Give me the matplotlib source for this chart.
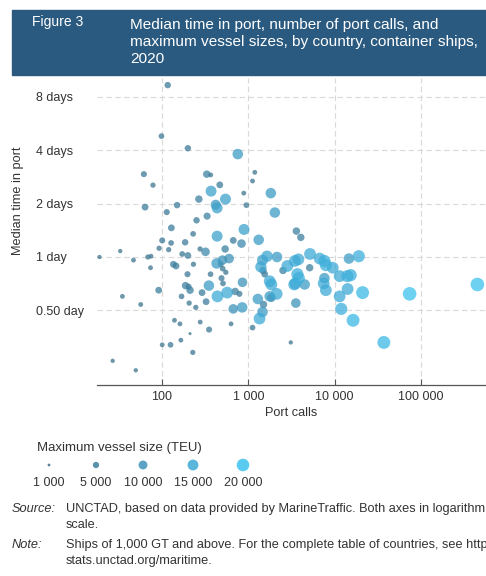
import numpy as np
import matplotlib
matplotlib.use("Agg")
import matplotlib.pyplot as plt
from matplotlib.colors import LinearSegmentedColormap, Normalize
from matplotlib.ticker import FixedLocator, NullLocator

plt.rcParams['font.family'] = ['Liberation Sans', 'DejaVu Sans']

# values: port calls, median days in port, max vessel size (TEU)
port_calls = [
    117, 99, 200, 756, 62, 79, 331, 368, 468, 371, 545, 268, 64, 114, 150, 420, 436, 887, 950,
    252, 334, 129, 230, 436, 893, 1190, 1120, 1320, 101, 128, 186, 93, 120, 172, 200, 277, 320,
    540, 670, 835, 1460, 19, 33, 47, 69, 75, 74, 136, 146, 232, 198, 430, 503, 600, 366, 35, 57,
    92, 169, 204, 188, 212, 480, 506, 550, 490, 510, 350, 292, 325, 247, 207, 440, 570, 705, 140,
    162, 278, 212, 352, 632, 101, 126, 166, 228, 27, 50, 670, 850, 790, 857, 1120, 1350, 1290,
    1500, 1822, 2030, 3600, 4050, 1400, 1650, 2150, 2520, 1480, 1550, 1770, 1850, 2130, 1770,
    1850, 1460, 3100, 3550, 3460, 3800, 2830, 5180, 5130, 3700, 3840, 3400, 3500, 4490, 6700,
    7600, 7900, 9500, 7600, 7450, 7900, 11400, 14000, 15300, 14600, 19000, 14100, 21000, 11400,
    11900, 16300, 73500, 37000, 447000,
]
median_days = [
    9.3, 4.8, 4.1, 3.8, 2.93, 2.54, 2.93, 2.9, 2.55, 2.35, 2.12, 2.12, 1.91, 1.79, 1.96, 1.97,
    1.89, 2.29, 1.96, 1.61, 1.70, 1.46, 1.35, 1.31, 1.43, 3.0, 2.68, 1.25, 1.24, 1.20, 1.21, 1.12,
    1.10, 1.04, 1.02, 1.11, 1.07, 1.11, 1.24, 1.19, 0.96, 1.0, 1.08, 0.96, 1.0, 1.01, 0.87, 0.91,
    0.89, 0.91, 0.80, 0.92, 0.96, 0.98, 0.80, 0.60, 0.54, 0.65, 0.60, 0.68, 0.69, 0.65, 0.91,
    0.86, 0.82, 0.76, 0.71, 0.69, 0.63, 0.56, 0.52, 0.55, 0.60, 0.63, 0.64, 0.44, 0.42, 0.43,
    0.37, 0.39, 0.42, 0.32, 0.32, 0.34, 0.29, 0.26, 0.23, 0.51, 0.52, 0.62, 0.72, 0.40, 0.45,
    0.58, 0.54, 2.29, 1.78, 1.40, 1.29, 0.88, 1.01, 1.00, 0.84, 0.84, 0.80, 0.73, 0.70, 0.62,
    0.60, 0.59, 0.49, 0.33, 0.55, 0.95, 0.97, 0.89, 1.04, 0.87, 0.80, 0.76, 0.70, 0.71, 0.70,
    0.98, 0.95, 0.90, 0.87, 0.76, 0.71, 0.65, 0.78, 0.78, 0.79, 0.98, 1.01, 0.66, 0.63, 0.60,
    0.51, 0.44, 0.62, 0.33, 0.70,
]
max_teu = [
    4500, 3500, 4500, 12000, 4000, 3000, 6000, 2500, 5000, 13000, 13000, 6000, 5000, 4000, 4500,
    11000, 13000, 2500, 3500, 4500, 5500, 5000, 3500, 13000, 13000, 2500, 2500, 12000, 4000,
    3500, 4500, 3000, 3000, 3500, 5000, 3000, 8000, 6000, 5000, 8000, 13000, 2000, 2000, 2500,
    3000, 2500, 2500, 5000, 5000, 3000, 4000, 12000, 10000, 10000, 3500, 2500, 2500, 5000, 3500,
    4000, 6000, 6000, 3500, 3500, 3000, 4000, 3500, 12000, 5000, 5000, 3000, 3000, 15000, 15000,
    6000, 2500, 2500, 2500, 1000, 4000, 2500, 2500, 3500, 2500, 3000, 2000, 2000, 10000, 12000,
    4000, 10000, 3500, 15000, 12000, 6000, 12000, 12000, 6000, 6000, 14000, 14000, 12000, 6000,
    6000, 5000, 15000, 15000, 15000, 12000, 8000, 12000, 2000, 10000, 15000, 15000, 15000,
    15000, 6000, 16000, 16000, 15000, 15000, 12000, 15000, 16000, 16000, 15000, 12000, 15000,
    15000, 15000, 16000, 16000, 12000, 16000, 15000, 18000, 15000, 16000, 18000, 20000, 18000,
    20000,
]

legend_teu = [1000, 5000, 10000, 15000, 20000]
legend_labels = ['1 000', '5 000', '10 000', '15 000', '20 000']

x_ticks = [100, 1000, 10000, 100000]
x_tick_labels = ['100', '1 000', '10 000', '100 000']
y_ticks = [0.5, 1, 2, 4, 8]
y_tick_labels = ['0.50 day', '1 day', '2 days', '4 days', '8 days']

cmap = LinearSegmentedColormap.from_list(
    'teu', ['#3c7089', '#3f86a8', '#3ea4cf', '#3dc2ee'])
norm = Normalize(1000, 20000)
size_scale = 0.0048
text_col = '#333333'

fig = plt.figure(figsize=(4.86, 5.76), dpi=100)

# header band
fig.patches.append(plt.Rectangle((12 / 486, 1 - 75 / 576), 474 / 486, 65 / 576,
                                 transform=fig.transFigure, color='#2b5a80', zorder=0))
fig.text(32 / 486, 1 - 22 / 576, 'Figure 3', color='white', fontsize=10,
         va='center', ha='left')
fig.text(130 / 486, 1 - 42 / 576,
         'Median time in port, number of port calls, and\n'
         'maximum vessel sizes, by country, container ships,\n2020',
         color='white', fontsize=11.1, va='center', ha='left', linespacing=1.3)

ax = fig.add_axes([97 / 486, 1 - 385 / 576, 389 / 486, 307 / 576])
teu = np.array(max_teu)
order = np.argsort(teu)
ax.scatter(np.array(port_calls)[order], np.array(median_days)[order],
           s=teu[order] * size_scale, c=teu[order], cmap=cmap, norm=norm,
           alpha=0.75, linewidths=0, zorder=3)
ax.set_xscale('log')
ax.set_yscale('log')
ax.set_xlim(10 ** 1.25, 10 ** 5.75)
ax.set_ylim(0.19, 10.2)

ax.xaxis.set_major_locator(FixedLocator(x_ticks))
ax.xaxis.set_minor_locator(NullLocator())
ax.set_xticklabels(x_tick_labels)
ax.yaxis.set_major_locator(FixedLocator(y_ticks))
ax.yaxis.set_minor_locator(NullLocator())
ax.set_yticklabels(y_tick_labels)

ax.grid(True, color='#d9d9d9', linestyle=(0, (5, 3)), linewidth=0.8, zorder=0)
for side in ['top', 'right', 'left']:
    ax.spines[side].set_visible(False)
ax.spines['bottom'].set_color('#555555')
ax.spines['bottom'].set_linewidth(0.9)

ax.tick_params(axis='x', direction='in', length=4, color='#555555', labelsize=9,
               labelcolor=text_col, pad=4)
ax.tick_params(axis='y', length=0, pad=44, labelsize=9, labelcolor=text_col)
for lbl in ax.get_yticklabels():
    lbl.set_horizontalalignment('left')

ax.set_xlabel('Port calls', fontsize=9.2, color=text_col, labelpad=3)
ax.set_ylabel('Median time in port', fontsize=9.2, color=text_col)
ax.yaxis.set_label_coords(-0.188, 0.6)

# size legend
fig.text(37 / 486, 1 - 448 / 576, 'Maximum vessel size (TEU)', fontsize=9.5,
         color=text_col, va='center', ha='left')
lax = fig.add_axes([30 / 486, 1 - 495 / 576, 240 / 486, 40 / 576])
lx = [49, 96, 143, 193, 243]
lax.scatter(lx, [465] * 5, s=np.array(legend_teu) * size_scale * 0.85, c=legend_teu,
            cmap=cmap, norm=norm, alpha=0.85, linewidths=0)
for xv, lab in zip(lx, legend_labels):
    lax.text(xv, 483, lab, fontsize=9, color=text_col, ha='center', va='center')
lax.set_xlim(30, 270)
lax.set_ylim(495, 455)
lax.axis('off')

# source and note (cut at the right edge, as in the original page crop)
fs = 9.2
fig.text(12 / 486, 1 - 509 / 576, 'Source:', fontsize=fs, style='italic',
         color=text_col, va='center')
fig.text(66 / 486, 1 - 509 / 576,
         'UNCTAD, based on data provided by MarineTraffic. Both axes in logarithmic',
         fontsize=fs, color=text_col, va='center')
fig.text(66 / 486, 1 - 525 / 576, 'scale.', fontsize=fs, color=text_col, va='center')
fig.text(12 / 486, 1 - 545 / 576, 'Note:', fontsize=fs, style='italic',
         color=text_col, va='center')
fig.text(66 / 486, 1 - 545 / 576,
         'Ships of 1,000 GT and above. For the complete table of countries, see https://',
         fontsize=fs, color=text_col, va='center')
fig.text(66 / 486, 1 - 561 / 576, 'stats.unctad.org/maritime.', fontsize=fs,
         color=text_col, va='center')

fig.savefig('out.png', dpi=100)
